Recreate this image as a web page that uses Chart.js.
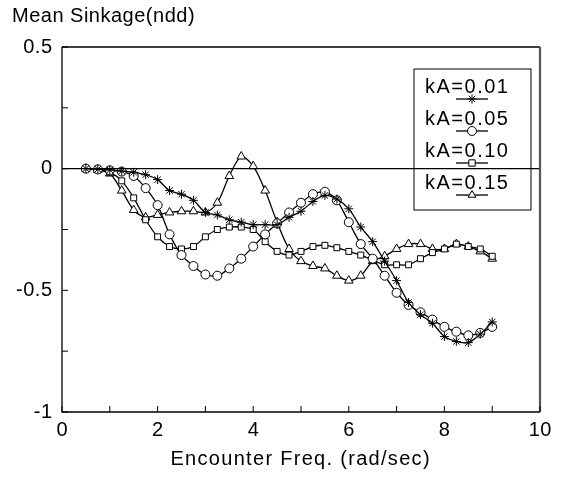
<!DOCTYPE html>
<html>
<head>
<meta charset="utf-8">
<script src="https://cdn.jsdelivr.net/npm/chart.js@4/dist/chart.umd.min.js"></script>
<style>
html,body{margin:0;padding:0;background:#fff;}
#wrap{position:relative;width:561px;height:477px;}
</style>
</head>
<body>
<div id="wrap"><canvas id="c" width="561" height="477"></canvas></div>
<script>
// ---- data ----
const freq = [0.5,0.75,1.0,1.25,1.5,1.75,2.0,2.25,2.5,2.75,3.0,3.25,3.5,3.75,4.0,4.25,4.5,4.75,5.0,5.25,5.5,5.75,6.0,6.25,6.5,6.75,7.0,7.25,7.5,7.75,8.0,8.25,8.5,8.75,9.0];
const kA001 = [0,-0.002,-0.005,-0.01,-0.015,-0.025,-0.045,-0.09,-0.105,-0.13,-0.18,-0.19,-0.21,-0.22,-0.23,-0.23,-0.23,-0.2,-0.175,-0.135,-0.11,-0.125,-0.165,-0.24,-0.3,-0.38,-0.46,-0.55,-0.6,-0.635,-0.69,-0.71,-0.715,-0.68,-0.63];
const kA005 = [0,-0.003,-0.007,-0.012,-0.03,-0.08,-0.15,-0.27,-0.355,-0.4,-0.435,-0.44,-0.41,-0.37,-0.32,-0.27,-0.225,-0.18,-0.14,-0.105,-0.095,-0.13,-0.22,-0.31,-0.37,-0.44,-0.51,-0.56,-0.59,-0.62,-0.65,-0.67,-0.685,-0.675,-0.65];
const kA010 = [0,-0.005,-0.015,-0.05,-0.12,-0.21,-0.28,-0.32,-0.33,-0.32,-0.28,-0.25,-0.24,-0.24,-0.25,-0.3,-0.34,-0.355,-0.34,-0.32,-0.315,-0.325,-0.34,-0.355,-0.375,-0.395,-0.395,-0.395,-0.37,-0.345,-0.33,-0.31,-0.32,-0.33,-0.36];
const kA015 = [0,-0.005,-0.02,-0.09,-0.17,-0.2,-0.19,-0.18,-0.175,-0.175,-0.18,-0.14,-0.03,0.05,0.01,-0.09,-0.22,-0.33,-0.38,-0.4,-0.41,-0.44,-0.46,-0.44,-0.38,-0.36,-0.33,-0.31,-0.31,-0.33,-0.33,-0.31,-0.32,-0.34,-0.37];
const zeroLineX = [0,10];
const zeroLineY = [0,0];
const seriesNames = ['kA=0.01','kA=0.05','kA=0.10','kA=0.15'];
const seriesMarkers = ['star','circle','rect','triangle'];
const xTickValues = [0,1,2,3,4,5,6,7,8,9,10];
const xLabelValues = [0,2,4,6,8,10];
const xTickLabels = ['0','2','4','6','8','10'];
const yTickValues = [0.5,0.25,0,-0.25,-0.5,-0.75,-1];
const yLabelValues = [0.5,0,-0.5,-1];
const yTickLabels = ['0.5','0','-0.5','-1'];
const yTitle = 'Mean Sinkage(ndd)';
const xTitle = 'Encounter Freq. (rad/sec)';

const FONT = '"Liberation Sans", Arial, Helvetica, sans-serif';
const seriesValues = [kA001,kA005,kA010,kA015];

function pts(xsArr, ysArr){ return xsArr.map((v,i)=>({x:v,y:ysArr[i]})); }

const datasets = seriesValues.map((vals,i)=>({
  label: seriesNames[i],
  data: pts(freq, vals),
  borderColor:'#000',
  borderWidth:1.3,
  backgroundColor:'#fff',
  pointStyle: seriesMarkers[i],
  pointRadius: seriesMarkers[i]==='rect' ? 4.2 : (seriesMarkers[i]==='triangle' ? 5 : 4.5),
  pointBorderWidth:1,
  pointBorderColor:'#000',
  pointBackgroundColor:'#fff',
  tension:0.3,
  fill:false
}));
datasets.unshift({
  label:'zero',
  data: pts(zeroLineX, zeroLineY),
  borderColor:'#000',
  borderWidth:1.4,
  pointRadius:0,
  fill:false
});

function txt(ctx, s, x, y, align, size, spacing){
  ctx.font = size+'px '+FONT;
  ctx.letterSpacing = spacing+'px';
  ctx.textAlign = 'left';
  ctx.textBaseline = 'middle';
  let w = ctx.measureText(s).width - spacing;
  let x0 = x;
  if(align==='center') x0 = x - w/2;
  else if(align==='right') x0 = x - w;
  ctx.fillText(s, x0, y);
}

const decor = {
  id:'decor',
  afterDraw(chart){
    const ctx = chart.ctx, a = chart.chartArea, xs = chart.scales.x, ys = chart.scales.y;
    ctx.save();
    ctx.strokeStyle='#000';
    ctx.lineWidth=1.3;
    ctx.beginPath();
    ctx.moveTo(a.left,a.top); ctx.lineTo(a.left,a.bottom); ctx.lineTo(a.right,a.bottom);
    ctx.moveTo(a.left,a.top); ctx.lineTo(a.right,a.top);
    ctx.stroke();
    ctx.strokeStyle='#555';
    ctx.lineWidth=2.2;
    ctx.beginPath(); ctx.moveTo(a.right,a.top); ctx.lineTo(a.right,a.bottom); ctx.stroke();
    // inward ticks
    ctx.strokeStyle='#000'; ctx.lineWidth=1;
    ctx.beginPath();
    xTickValues.forEach(v=>{const p=xs.getPixelForValue(v); ctx.moveTo(p,a.bottom); ctx.lineTo(p,a.bottom-6);});
    yTickValues.forEach(v=>{const p=ys.getPixelForValue(v); ctx.moveTo(a.left,p); ctx.lineTo(a.left+6,p);});
    ctx.stroke();
    // tick labels
    ctx.fillStyle='#000';
    xLabelValues.forEach((v,i)=>txt(ctx, xTickLabels[i], xs.getPixelForValue(v), 430, 'center', 20, 0.5));
    yLabelValues.forEach((v,i)=>txt(ctx, yTickLabels[i], 52, ys.getPixelForValue(v), 'right', 20, 0.5));
    // titles
    txt(ctx, yTitle, 12, 16, 'left', 20, 0.5);
    txt(ctx, xTitle, 300, 459, 'center', 20, 1.3);
    // legend
    const bx=414, by=69, bw=117, bh=141;
    ctx.letterSpacing='0px';
    ctx.strokeStyle='#000'; ctx.lineWidth=1;
    ctx.fillStyle='#fff';
    ctx.fillRect(bx,by,bw,bh);
    ctx.strokeRect(bx,by,bw,bh);
    const zy = ys.getPixelForValue(0);
    ctx.lineWidth=1.4;
    ctx.beginPath(); ctx.moveTo(bx,zy); ctx.lineTo(bx+bw,zy); ctx.stroke();
    const rowY=[87,119,151,183];
    seriesNames.forEach((n,i)=>{
      ctx.fillStyle='#000';
      txt(ctx, n, 425, rowY[i], 'left', 20, 1.5);
      ctx.letterSpacing='0px';
      const ly=rowY[i]+12;
      ctx.lineWidth=1.3; ctx.strokeStyle='#000';
      ctx.beginPath(); ctx.moveTo(456,ly); ctx.lineTo(488,ly); ctx.stroke();
      ctx.fillStyle='#fff'; ctx.lineWidth=1;
      Chart.helpers.drawPoint(ctx,{pointStyle:seriesMarkers[i],radius:4.5,borderWidth:1},472,ly);
    });
    ctx.restore();
  }
};

new Chart(document.getElementById('c'),{
  type:'line',
  data:{datasets},
  options:{
    responsive:false,
    animation:false,
    devicePixelRatio:1,
    layout:{padding:{left:0,right:21,top:47,bottom:0}},
    plugins:{legend:{display:false},tooltip:{enabled:false}},
    scales:{
      x:{
        type:'linear',min:0,max:10,
        afterFit(s){s.height=65;},
        border:{display:false},
        grid:{display:false},
        ticks:{display:false,stepSize:1}
      },
      y:{
        type:'linear',min:-1,max:0.5,
        afterFit(s){s.width=62;},
        border:{display:false},
        grid:{display:false},
        ticks:{display:false,stepSize:0.25}
      }
    }
  },
  plugins:[decor]
});
</script>
</body>
</html>
